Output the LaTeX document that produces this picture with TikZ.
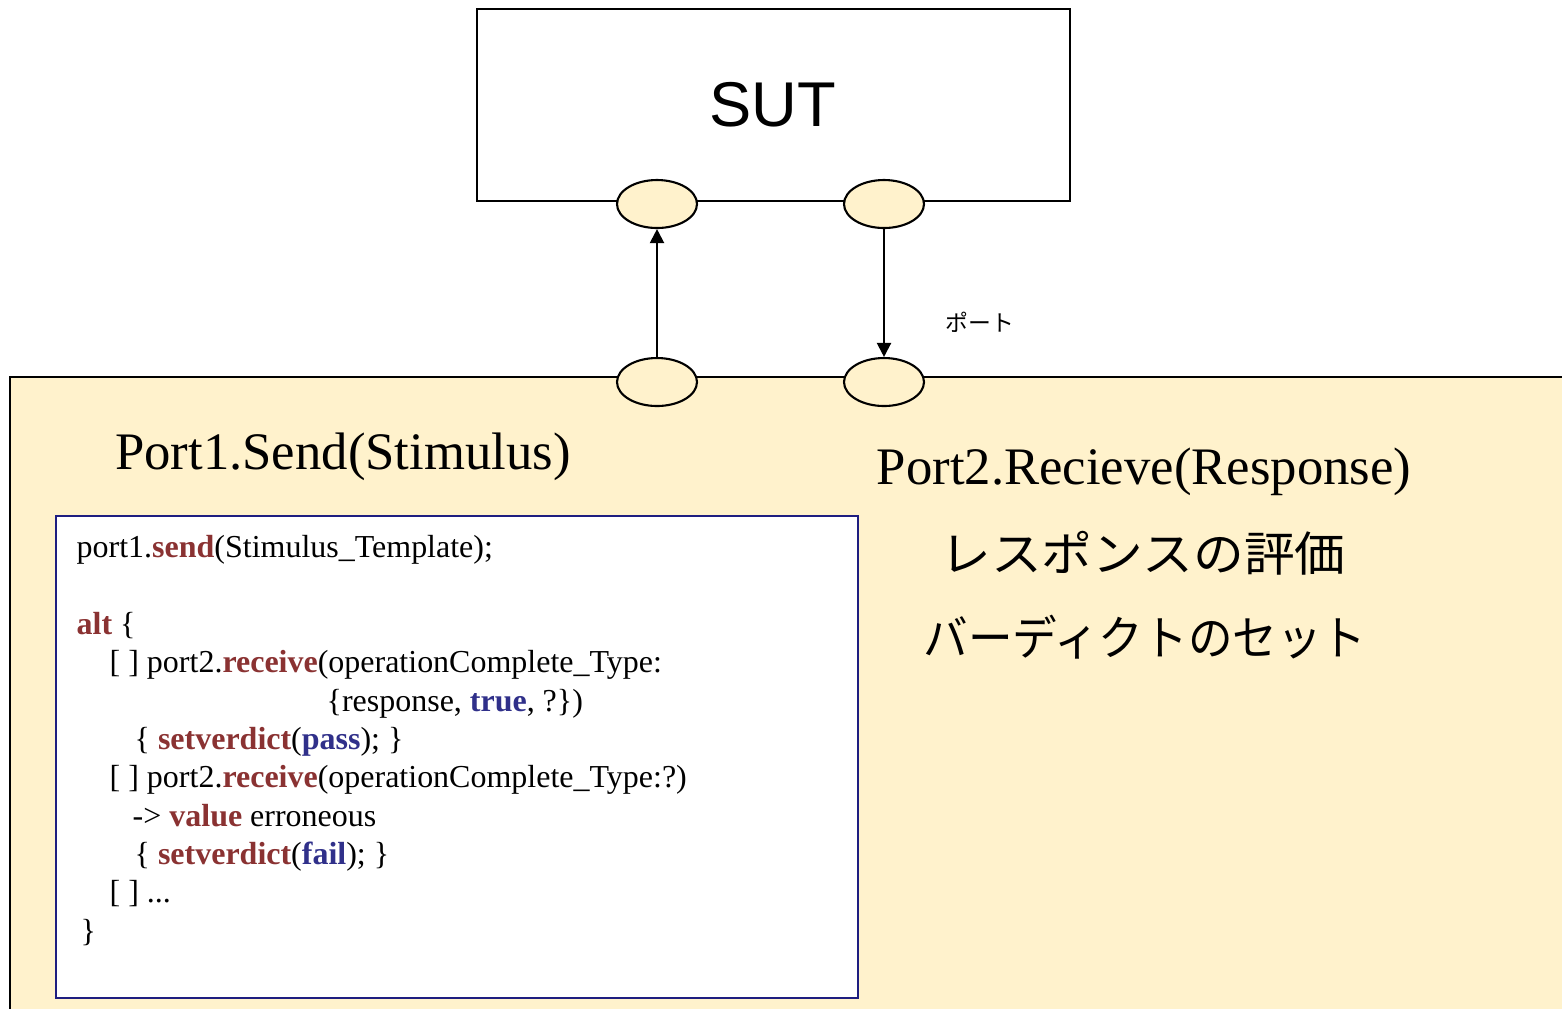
\documentclass[tikz,border=0pt]{standalone}
\usepackage{fontspec}
\setmainfont{Liberation Serif}
\setsansfont{Liberation Sans}
\newfontfamily\jpfont{Noto Sans CJK JP}
\usepackage{xcolor}
\usepackage{graphicx}
\usepackage{tikz}
\usetikzlibrary{shapes,arrows.meta,positioning}

\definecolor{testerfill}{RGB}{255,242,204}
\definecolor{kwred}{RGB}{138,50,50}
\definecolor{kwblue}{RGB}{48,48,138}
\definecolor{codeframe}{RGB}{30,30,128}
\newcommand{\kwr}[1]{\textbf{\textcolor{kwred}{#1}}}
\newcommand{\kwb}[1]{\textbf{\textcolor{kwblue}{#1}}}

\tikzset{
  port/.style={draw, line width=0.6pt, fill=testerfill, ellipse, minimum width=0.8cm, minimum height=0.48cm, inner sep=0pt},
  msg/.style={line width=0.6pt, -{Triangle[length=4pt,width=4pt]}},
  biglbl/.style={font=\fontsize{15}{18}\selectfont},
  jplbl/.style={font=\jpfont\fontsize{13.5}{16}\selectfont},
}

\begin{document}
\begin{tikzpicture}
    \useasboundingbox (0,0) rectangle (15.62,-10.09);

    % System under test
    \node[draw, line width=0.6pt, anchor=north west, minimum width=5.93cm, minimum height=1.92cm,
          font=\sffamily\fontsize{18}{20}\selectfont] (sut) at (4.755,-0.075) {SUT};

    % Test component
    \fill[testerfill] (0.10,-3.77) rectangle (15.62,-10.09);
    \draw[line width=0.6pt] (15.62,-3.77) -- (0.10,-3.77) -- (0.10,-10.09);

    % Ports and messages
    \node[port] (sutp1) at (6.57,-2.04) {};
    \node[port] (sutp2) at (8.84,-2.04) {};
    \node[port] (mtcp1) at (6.57,-3.82) {};
    \node[port] (mtcp2) at (8.84,-3.82) {};
    \draw[msg] (mtcp1) -- (sutp1);
    \draw[msg] (sutp2) -- (mtcp2);
    \node[font=\jpfont\fontsize{6.5}{8}\selectfont] (portlbl) at (9.80,-3.22) {ポート};

    \node[biglbl] (sendlbl) at (3.43,-4.57) {Port1.Send(Stimulus)};
    \node[biglbl] (recvlbl) at (11.44,-4.72) {Port2.Recieve(Response)};
    \node[jplbl] (evallbl) at (11.43,-5.53) {\scalebox{1.07}[1]{レスポンスの評価}};
    \node[jplbl] (verdictlbl) at (11.45,-6.37) {\scalebox{0.94}[1]{バーディクトのセット}};

    % TTCN-3 snippet
    \node[draw=codeframe, line width=0.7pt, fill=white, anchor=north west,
          minimum width=8.02cm, minimum height=4.82cm] (codebox) at (0.55,-5.15) {};
    \node[anchor=north west, inner sep=0pt, align=left, font=\fontsize{9.1}{10.9}\selectfont] (code) at (0.76,-5.35) {%
        port1.\kwr{send}(Stimulus\_Template);\\[10.9pt]
        \kwr{alt} \{\\
        \hspace*{0.33cm}[ ] port2.\kwr{receive}(operationComplete\_Type:\\
        \hspace*{2.50cm}\{response, \kwb{true}, ?\})\\
        \hspace*{0.58cm}\{ \kwr{setverdict}(\kwb{pass}); \}\\
        \hspace*{0.33cm}[ ] port2.\kwr{receive}(operationComplete\_Type:?)\\
        \hspace*{0.56cm}-> \kwr{value} erroneous\\
        \hspace*{0.58cm}\{ \kwr{setverdict}(\kwb{fail}); \}\\
        \hspace*{0.33cm}[ ] ...\\
        \hspace*{0.04cm}\}};
\end{tikzpicture}
\end{document}
